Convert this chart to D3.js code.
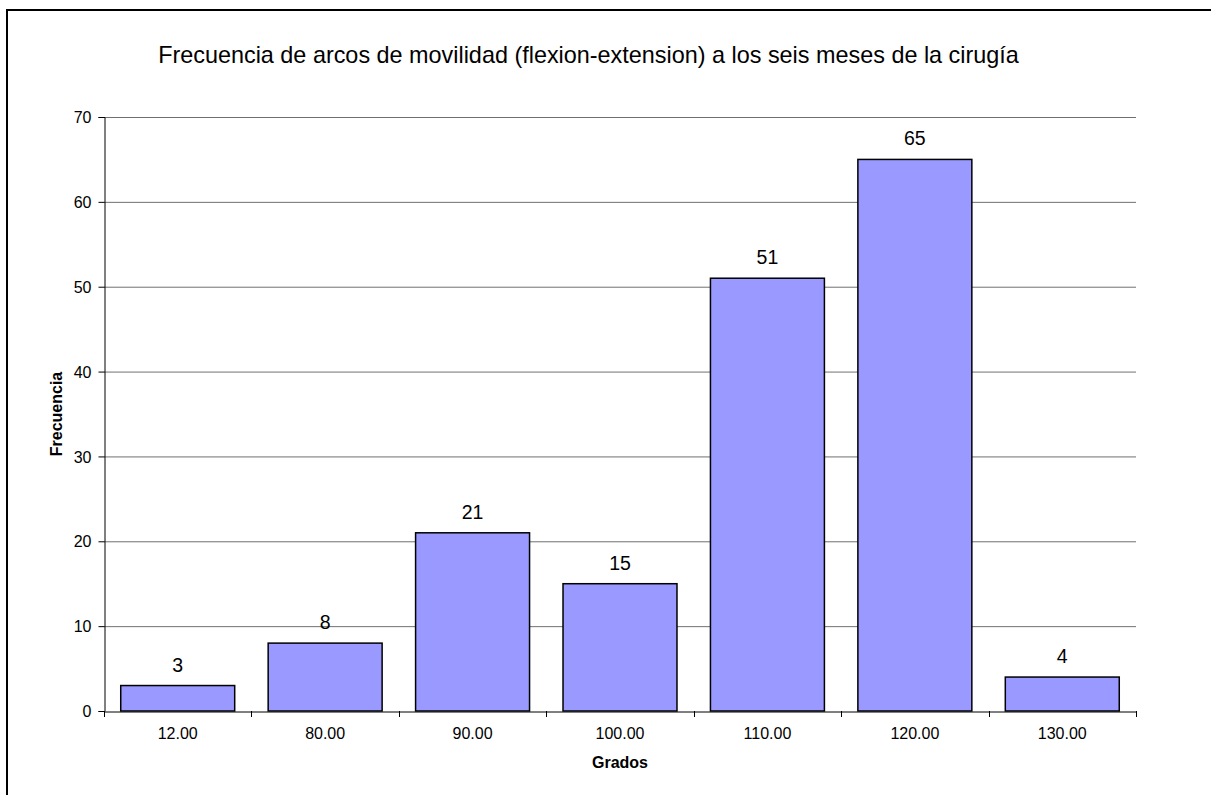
<!DOCTYPE html>
<html><head><meta charset="utf-8">
<script src="https://cdn.jsdelivr.net/npm/d3@7"></script>
<style>body{margin:0;background:#fff;overflow:hidden;} svg{display:block;font-family:"Liberation Sans",Arial,sans-serif;}</style>
</head><body>
<script>
const categories = ["12.00","80.00","90.00","100.00","110.00","120.00","130.00"];
const values = [3,8,21,15,51,65,4];
const yTicks = [0,10,20,30,40,50,60,70];
const title = "Frecuencia de arcos de movilidad (flexion-extension) a los seis meses de la cirugía";
const xTitle = "Grados";
const yTitle = "Frecuencia";

const W = 1211, H = 795;
const FF = "Liberation Sans, Arial, sans-serif";
const svg = d3.select("body").append("svg").attr("width", W).attr("height", H);
// outer frame (top and left edges visible)
svg.append("line").attr("x1",6).attr("x2",W).attr("y1",10).attr("y2",10).attr("stroke","#000").attr("stroke-width",2);
svg.append("line").attr("x1",7).attr("x2",7).attr("y1",9).attr("y2",H).attr("stroke","#000").attr("stroke-width",2);

const L = 104, R = 1136, T = 117, B = 711;
const x = d3.scaleBand().domain(categories).range([L,R]).padding(0);
const y = d3.scaleLinear().domain([0,70]).range([B,T]);

// gridlines
svg.append("g").selectAll("line").data(yTicks.filter(d=>d>0)).join("line")
  .attr("x1",L).attr("x2",R).attr("y1",d=>y(d)+0.5).attr("y2",d=>y(d)+0.5)
  .attr("stroke","#707070").attr("stroke-width",1);

// y axis
const ya = svg.append("g").attr("transform",`translate(${L+0.5},0)`)
  .call(d3.axisLeft(y).tickValues(yTicks).tickSize(6).tickPadding(7).tickFormat(d3.format("d")));
ya.attr("font-size",null).attr("font-family",null);
ya.select(".domain").attr("stroke","#000");
ya.selectAll(".tick line").attr("stroke","#000");
ya.selectAll("text").attr("font-size",16).attr("fill","#000").attr("font-family",FF).attr("dy","0.35em");

// x axis
const xa = svg.append("g").attr("transform",`translate(0,${B+0.5})`)
  .call(d3.axisBottom(x).tickSize(0).tickPadding(16));
xa.attr("font-size",null).attr("font-family",null);
xa.select(".domain").attr("stroke","#000");
xa.selectAll("text").attr("font-size",16).attr("fill","#000").attr("font-family",FF);
// tick marks at category boundaries
const bounds = categories.map(c=>x(c)).concat([R]);
svg.append("g").selectAll("line").data(bounds).join("line")
  .attr("x1",d=>Math.round(d)+0.5).attr("x2",d=>Math.round(d)+0.5)
  .attr("y1",B).attr("y2",B+6).attr("stroke","#000");

// bars
const bw = x.bandwidth()*0.773;
svg.append("g").selectAll("rect").data(values).join("rect")
  .attr("x",(d,i)=>x(categories[i])+(x.bandwidth()-bw)/2)
  .attr("y",d=>y(d))
  .attr("width",bw)
  .attr("height",d=>B-y(d))
  .attr("fill","#9999FF").attr("stroke","#000").attr("stroke-width",1.5);

// value labels
svg.append("g").selectAll("text").data(values).join("text")
  .attr("x",(d,i)=>x(categories[i])+x.bandwidth()/2)
  .attr("y",d=>y(d)-14)
  .attr("text-anchor","middle").attr("font-size",19.5).attr("fill","#000").attr("font-family",FF)
  .text(d=>d);

// titles
svg.append("text").attr("x",588.5).attr("y",63).attr("text-anchor","middle")
  .attr("font-size",23.4).attr("fill","#000").attr("font-family",FF).text(title);
svg.append("text").attr("x",(L+R)/2).attr("y",768).attr("text-anchor","middle")
  .attr("font-size",16).attr("font-weight","bold").attr("fill","#000").attr("font-family",FF).text(xTitle);
svg.append("text").attr("transform",`translate(62,${(T+B)/2}) rotate(-90)`).attr("text-anchor","middle")
  .attr("font-size",16).attr("font-weight","bold").attr("fill","#000").attr("font-family",FF).text(yTitle);
</script>
</body></html>
